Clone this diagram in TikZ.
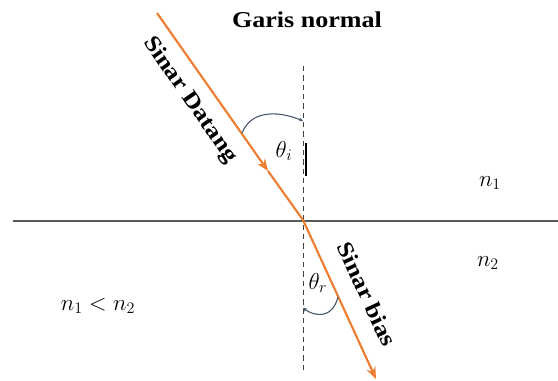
\documentclass[tikz,border=0pt]{standalone}
\usepackage{fontspec}
\setmainfont{Liberation Serif}
\usepackage{amsmath}
\usepackage{tikz}
\usepackage{xcolor}
\usetikzlibrary{arrows.meta}
\definecolor{rayorange}{HTML}{ED7D31}
\definecolor{arcblue}{HTML}{44546A}
\definecolor{surfgray}{HTML}{595959}
\definecolor{normgray}{HTML}{404040}
\newcommand\lblfont{\bfseries\fontsize{17}{20}\selectfont}
\newcommand\symfont{\fontsize{18}{21}\selectfont}

\begin{document}
\begin{tikzpicture}[x=0.75pt,y=-0.75pt, lbl/.style={font=\lblfont,inner sep=0pt}, sym/.style={font=\symfont,inner sep=0pt}, ray/.style={draw=rayorange,line width=1.6pt}, raytip/.style={-{Stealth[length=9pt,width=7pt]}}, angarc/.style={draw=arcblue,line width=0.8pt,-{Stealth[length=3pt,width=3pt]}}]
\useasboundingbox (0,0) rectangle (558,381);
\coordinate (surfL) at (13,221); \coordinate (surfR) at (558,221);
\coordinate (normT) at (303,66); \coordinate (normB) at (303,373);
\coordinate (src) at (157,13); \coordinate (mid) at (268,171);
\coordinate (hit) at (303,220); \coordinate (out) at (376,379);
\draw[surfgray,line width=1.2pt] (surfL) -- (surfR);
\draw[normgray,dash pattern=on 4pt off 3pt,line width=0.6pt] (normT) -- (normB);
\draw[ray,raytip] (src) -- (mid);
\draw[ray] (mid) -- (hit);
\draw[ray,raytip] (hit) -- (out);
% angle marks
\coordinate (arcI) at (242,133); \coordinate (arcIe) at (303,121);
\draw[angarc] (arcI) .. controls (252,108) and (282,112) .. (arcIe);
\coordinate (arcR) at (338,297); \coordinate (arcRe) at (303,308);
\draw[angarc] (arcR) .. controls (332,320) and (314,316) .. (arcRe);
\coordinate (tickT) at (306,143); \coordinate (tickB) at (306,176);
\draw[line width=1pt] (tickT) -- (tickB);
% labels
\node[lbl] (garis) at (307,20) {\scalebox{1.15}[1]{Garis normal}};
\node[lbl,rotate=-55] (datang) at (190,100) {\scalebox{1.15}[1]{Sinar Datang}};
\node[lbl,rotate=-65] (bias) at (367,294) {\scalebox{1.15}[1]{Sinar bias}};
\node[sym] (thi) at (284,151) {$\theta_i$};
\node[sym] (thr) at (318,283) {$\theta_r$};
\node[sym] (n1) at (490,183) {$n_1$};
\node[sym] (n2) at (488,263) {$n_2$};
\node[sym] (cmp) at (98,306) {$n_1<n_2$};
\end{tikzpicture}
\end{document}
